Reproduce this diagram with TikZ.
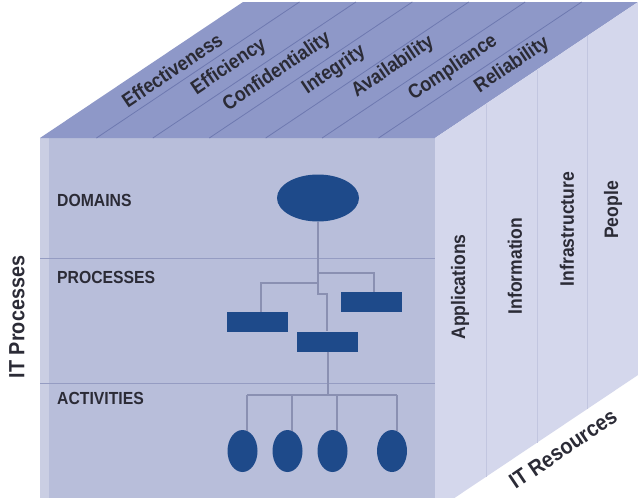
\documentclass[tikz,border=0pt]{standalone}
\usepackage{fontspec}
\newfontfamily\cond[FakeStretch=0.9]{Liberation Sans Bold}
\usetikzlibrary{shapes.geometric}
\definecolor{frontc}{HTML}{B8BEDA}
\definecolor{topc}{HTML}{8E98C8}
\definecolor{rightc}{HTML}{D4D7EC}
\definecolor{darkc}{HTML}{1E4A8A}
\definecolor{linec}{HTML}{8A90B2}
\definecolor{txtc}{HTML}{2B2B36}
\definecolor{topdiv}{HTML}{6E79B0}
\definecolor{frontdiv}{HTML}{959CC2}
\definecolor{rightdiv}{HTML}{C2C6E0}
\begin{document}
\begin{tikzpicture}[x=1pt,y=-1pt,
  toplbl/.style={font=\cond\fontsize{20}{20}\selectfont, text=txtc, inner sep=0, rotate=34},
  sidelbl/.style={font=\cond\fontsize{19.5}{19.5}\selectfont, text=txtc, inner sep=0, rotate=90},
  rowlbl/.style={font=\cond\fontsize{17.5}{17.5}\selectfont, text=txtc, inner sep=0, anchor=west},
  axislbl/.style={font=\cond\fontsize{22}{22}\selectfont, text=txtc, inner sep=0},
  domshape/.style={ellipse, fill=darkc, minimum width=82pt, minimum height=47pt, inner sep=0},
  procshape/.style={rectangle, fill=darkc, minimum width=61pt, minimum height=20pt, inner sep=0},
  actshape/.style={ellipse, fill=darkc, minimum width=30pt, minimum height=42pt, inner sep=0},
  conn/.style={draw=linec, line width=1.1pt}]
\useasboundingbox (0,0) rectangle (638,498);
\clip (0,0) rectangle (638,498);
\fill[white] (0,0) rectangle (638,498);
% faces
\fill[frontc] (40,138) rectangle (435,520);
\fill[frontc!75!white] (40,138) rectangle (49,520);
\fill[topc] (40,138) -- (243,2) -- (638,2) -- (435,138) -- cycle;
\fill[rightc] (435,138) -- (638,2) -- (638,375) -- (435,511) -- cycle;
% top dividers
\foreach \i in {1,...,6}{
  \draw[topdiv, line width=0.8pt] ({40+56.43*\i},138) -- ++(203,-136);
}
% front dividers
\draw[frontdiv, line width=1pt] (40,258) -- (435,258);
\draw[frontdiv, line width=1pt] (40,383) -- (435,383);
% right dividers
\foreach \x in {486,537,587}{
  \draw[rightdiv, line width=0.8pt] (\x,{138-(\x-435)*0.67}) -- (\x,{511-(\x-435)*0.67});
}
% top labels
\node[toplbl] (l1) at (172,70) {Effectiveness};
\node[toplbl] (l2) at (229,67) {Efficiency};
\node[toplbl] (l3) at (277,72) {Confidentiality};
\node[toplbl] (l4) at (334,70) {Integrity};
\node[toplbl] (l5) at (393,67) {Availability};
\node[toplbl] (l6) at (453,68) {Compliance};
\node[toplbl] (l7) at (512,65) {Reliability};
% right labels
\node[sidelbl] (r1) at (460,287) {Applications};
\node[sidelbl] (r2) at (515,266) {Information};
\node[sidelbl] (r3) at (567,229) {Infrastructure};
\node[sidelbl] (r4) at (613,210) {People};
% axis labels
\node[axislbl, rotate=90] (itp) at (17,317) {IT Processes};
\node[axislbl, rotate=34] (itr) at (563,449) {IT Resources};
% row labels
\node[rowlbl] (rd) at (57,200) {DOMAINS};
\node[rowlbl] (rp) at (57,277) {PROCESSES};
\node[rowlbl] (ra) at (57,398) {ACTIVITIES};
% tree nodes
\node[domshape] (dom) at (318,198) {};
\node[procshape] (p1) at (371,302) {};
\node[procshape] (p2) at (257,322) {};
\node[procshape] (p3) at (327,341.5) {};
\node[actshape] (a1) at (242.5,451) {};
\node[actshape] (a2) at (287.5,451) {};
\node[actshape] (a3) at (332.5,451) {};
\node[actshape] (a4) at (392,451) {};
% junctions
\coordinate (j1) at (318,273);
\coordinate (j2) at (318,283);
\coordinate (j3) at (318,294);
\coordinate (bus) at (328,395);
% connectors
\draw[conn] (dom.south) -- (j3) -- (j3 -| p3.north) -- (p3.north);
\draw[conn] (j1) -| ([xshift=3pt]p1.north);
\draw[conn] (j2) -| ([xshift=4pt]p2.north);
\draw[conn] ([xshift=1pt]p3.south) -- ([xshift=1pt]p3.south |- bus);
\draw[conn] ([xshift=4.5pt]a1.north |- bus) -- ([xshift=5pt]a4.north |- bus);
\foreach \n/\s in {a1/4.5,a2/4.5,a3/4.5,a4/5}{
  \draw[conn] ([xshift=\s pt]\n.north |- bus) -- ([xshift=\s pt, yshift=-1pt]\n.north);
}
\end{tikzpicture}
\end{document}
